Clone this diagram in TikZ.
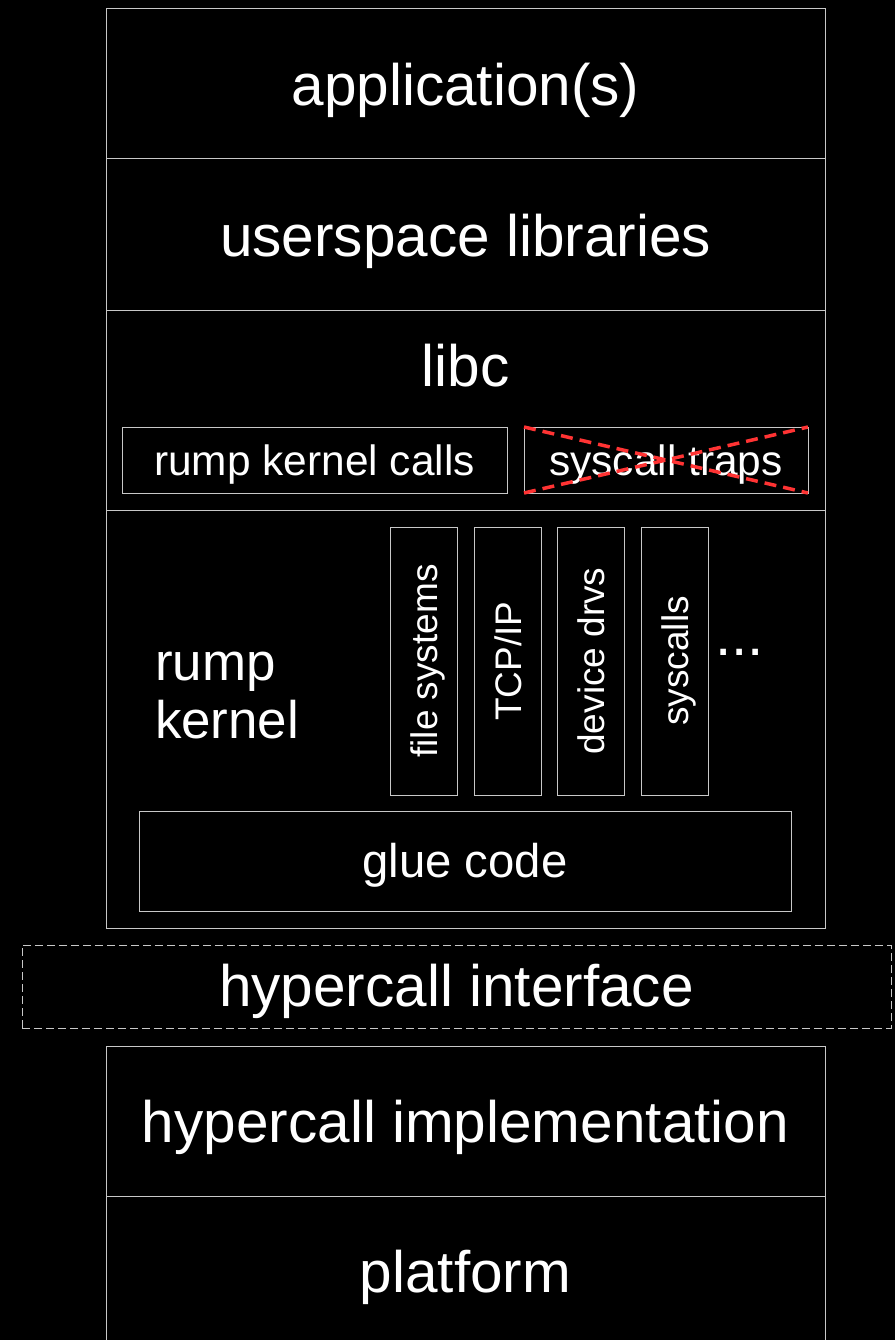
\documentclass[tikz,border=0pt]{standalone}
\usepackage{fontspec}
\setmainfont{Liberation Sans}
\definecolor{edge}{HTML}{C8C8C8}
\definecolor{crossred}{HTML}{FF3333}
\newcommand{\fntXL}{\fontsize{58.5}{64}\selectfont}
\newcommand{\fntL}{\fontsize{52.9}{58}\selectfont}
\newcommand{\fntM}{\fontsize{47.3}{52}\selectfont}
\newcommand{\fntS}{\fontsize{42.4}{47}\selectfont}
\newcommand{\fntXS}{\fontsize{37}{41}\selectfont}
\begin{document}
\begin{tikzpicture}[x=1pt,y=-1pt,
  every node/.style={text=white, inner sep=0pt, outer sep=0pt},
  frame/.style={draw=edge, line width=1pt},
  layer/.style={frame, minimum width=719pt, font=\fntXL, text height=52pt, text depth=9pt},
  callbox/.style={frame, minimum height=66pt, font=\fntS, text height=37pt, text depth=7pt},
  modbox/.style={frame, rotate=90, minimum width=268pt, minimum height=67pt, font=\fntXS, text height=33pt, text depth=6pt},
  crossline/.style={draw=crossred, line width=3.5pt, dash pattern=on 12pt off 7pt},
  dashedframe/.style={draw=edge, line width=1pt, dash pattern=on 8pt off 4pt},
]
% canvas
\fill[black] (0,0) rectangle (895,1340);
\useasboundingbox (0,0) rectangle (895,1340);
\clip (0,0) rectangle (895,1340);

% upper stack
\node[layer, minimum height=150pt] (app) at (465.5,84) {application(s)};
\node[layer, minimum height=151pt] (ulib) at (465.5,234.5) {userspace libraries};
\node[frame, minimum width=719pt, minimum height=200pt] (libc) at (465.5,410) {};
\node[font=\fntXL, anchor=base] (libctext) at (465.5,386) {libc};
\node[callbox, minimum width=385pt] (rkc) at (314.5,460) {rump kernel calls};
\node[callbox, minimum width=284pt] (traps) at (666,460) {syscall traps};
\draw[crossline] (traps.north west) -- (traps.south east);
\draw[crossline] (traps.south west) -- (traps.north east);

% rump kernel
\node[frame, minimum width=719pt, minimum height=418pt] (rump) at (465.5,719) {};
\node[font=\fntL, anchor=base west, align=left] (rumptext) at (155,738) {rump\\kernel};
\node[modbox] (fs) at (423.5,661) {file systems};
\node[modbox] (tcp) at (507.5,661) {TCP/IP};
\node[modbox] (dev) at (590.5,661) {device drvs};
\node[modbox] (sys) at (674.5,661) {syscalls};
\node[font=\fntXL, anchor=base west] (more) at (715,655) {...};
\node[frame, minimum width=652pt, minimum height=100pt, font=\fntM, text height=41pt, text depth=8pt] (glue) at (465,861) {glue code};

% hypercall interface
\node[dashedframe, minimum width=869pt, minimum height=83pt, font=\fntXL, text height=50pt, text depth=10pt] (hif) at (456.5,986.5) {hypercall interface};

% lower stack
\node[layer, minimum height=150pt] (himpl) at (465.5,1121) {hypercall implementation};
\node[layer, minimum height=150pt] (plat) at (465.5,1271) {platform};
\end{tikzpicture}
\end{document}
